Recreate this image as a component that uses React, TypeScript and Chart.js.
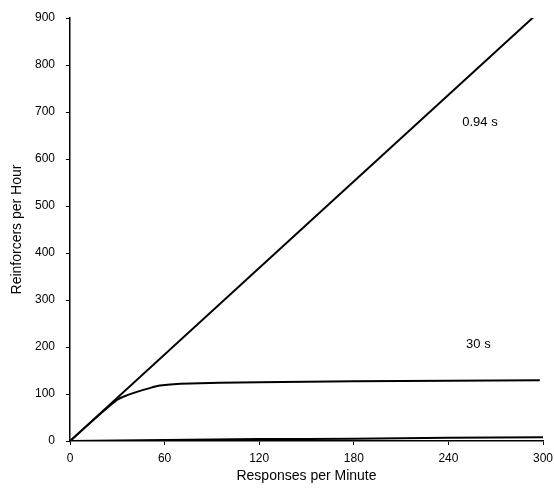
import React, { useEffect, useRef } from "react";
import { Chart, registerables } from "chart.js";

Chart.register(...registerables);

const fastX = [0, 294];
const fastY = [0, 902];
const slowX = [0, 20, 30, 36, 42, 50, 57, 70, 120, 180, 240, 298];
const slowY = [0, 60, 88, 97, 104, 112, 118, 122, 125, 127, 128, 129];
const zeroX = [0, 60, 120, 180, 240, 300];
const zeroY = [0, 2, 4, 5, 7, 8];
const lineLabels = ["0.94 s", "30 s"];
const labelX = [260, 259];
const labelY = [677, 206];

const FONT = "'Liberation Sans', Arial, sans-serif";

const toPts = (xs: number[], ys: number[]) => xs.map((x, i) => ({ x, y: ys[i] }));

const labelPlugin = {
  id: "lineLabels",
  afterDatasetsDraw(chart: any) {
    const { ctx, scales } = chart;
    ctx.save();
    ctx.fillStyle = "#000";
    ctx.font = `13px ${FONT}`;
    ctx.textAlign = "center";
    ctx.textBaseline = "middle";
    lineLabels.forEach((t, i) => {
      ctx.fillText(t, scales.x.getPixelForValue(labelX[i]), scales.y.getPixelForValue(labelY[i]));
    });
    ctx.restore();
  },
};

export default function App() {
  const ref = useRef<HTMLCanvasElement>(null);
  useEffect(() => {
    document.body.style.margin = "0";
    const ds = (xs: number[], ys: number[], w: number) => ({
      data: toPts(xs, ys),
      borderColor: "#000",
      borderWidth: w,
      pointRadius: 0,
      fill: false,
      tension: 0.2,
    });
    const chart = new Chart(ref.current!, {
      type: "line",
      data: {
        datasets: [ds(fastX, fastY, 2), ds(slowX, slowY, 2), ds(zeroX, zeroY, 2)],
      },
      options: {
        animation: false,
        responsive: false,
        layout: { padding: { left: 5, top: 18, right: 11, bottom: 8 } },
        plugins: { legend: { display: false }, tooltip: { enabled: false } },
        scales: {
          x: {
            type: "linear",
            min: 0,
            max: 300,
            ticks: { stepSize: 60, color: "#000", font: { family: FONT, size: 12 }, padding: 6, maxRotation: 0 },
            grid: { drawOnChartArea: false, tickLength: 4, color: "#000" },
            border: { color: "#000", width: 1.5 },
            title: { display: true, text: "Responses per Minute", color: "#000", font: { family: FONT, size: 14 } },
            afterFit: (s: any) => { s.height = 48; s.paddingRight = 0; s.paddingLeft = 0; },
          },
          y: {
            type: "linear",
            min: 0,
            max: 900,
            ticks: { stepSize: 100, color: "#000", font: { family: FONT, size: 12 }, padding: 11 },
            grid: { drawOnChartArea: false, tickLength: 4, color: "#000" },
            border: { color: "#000", width: 1.5 },
            title: { display: true, text: "Reinforcers per Hour", color: "#000", font: { family: FONT, size: 14 } },
            afterFit: (s: any) => { s.width = 65; s.paddingTop = 0; s.paddingBottom = 0; },
          },
        },
      },
      plugins: [labelPlugin],
    });
    return () => chart.destroy();
  }, []);
  return (
    <div style={{ width: 554, height: 497 }}>
      <canvas ref={ref} width={554} height={497} style={{ display: "block" }} />
    </div>
  );
}
